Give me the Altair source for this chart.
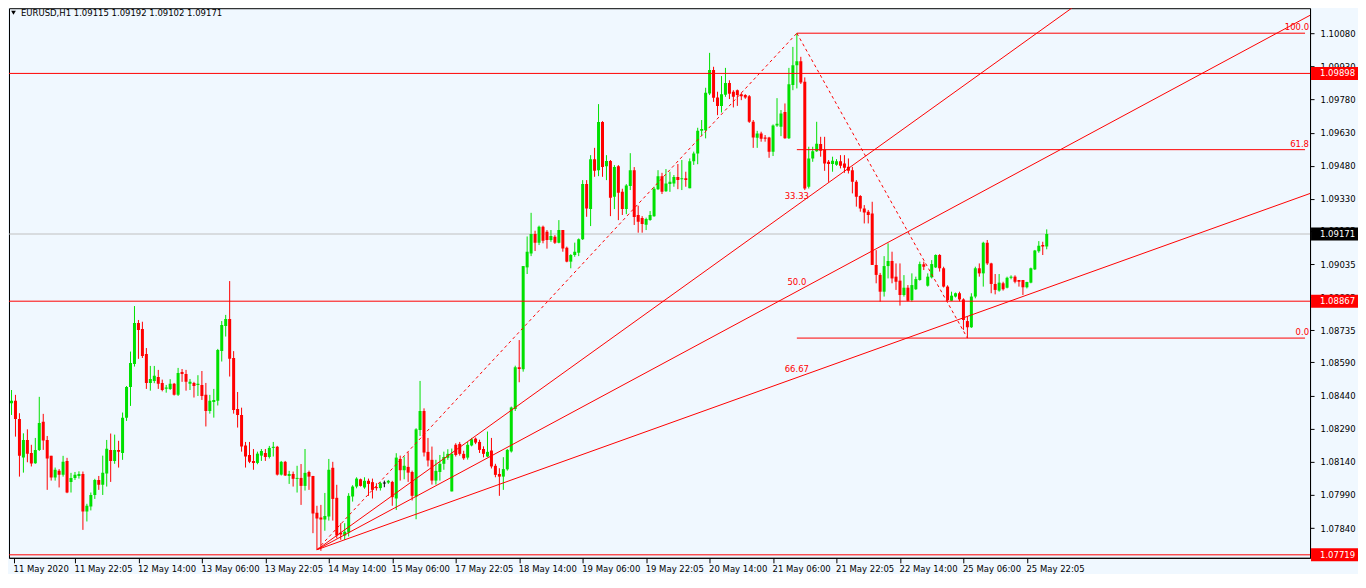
import altair as alt
import pandas as pd

# ---------------- data (EURUSD H1) ----------------
bar_open = [
    1.08405, 1.08416, 1.08334, 1.08159, 1.08239, 1.08180, 1.08134, 1.08194, 1.08321, 1.08239,
    1.08167, 1.08069, 1.08099, 1.08082, 1.08144, 1.08049, 1.08067, 1.08076, 1.08085, 1.07915,
    1.07938, 1.07990, 1.08058, 1.08036, 1.08087, 1.08194, 1.08144, 1.08194, 1.08180, 1.08339,
    1.08479, 1.08583, 1.08768, 1.08741, 1.08628, 1.08497, 1.08506, 1.08524, 1.08497, 1.08471,
    1.08470, 1.08493, 1.08443, 1.08547, 1.08538, 1.08493, 1.08497, 1.08488, 1.08488, 1.08443,
    1.08370, 1.08411, 1.08416, 1.08642, 1.08755, 1.08786, 1.08610, 1.08379, 1.08352, 1.08214,
    1.08171, 1.08144, 1.08135, 1.08168, 1.08180, 1.08162, 1.08203, 1.08208, 1.08082, 1.08140,
    1.08076, 1.08085, 1.08063, 1.08067, 1.08031, 1.08094, 1.08076, 1.07909, 1.07888, 1.07879,
    1.07892, 1.08113, 1.07977, 1.07819, 1.07806, 1.07820, 1.07983, 1.08028, 1.08061, 1.08024,
    1.08054, 1.08048, 1.08025, 1.08021, 1.08044, 1.08046, 1.08049, 1.07974, 1.08153, 1.08102,
    1.08117, 1.08094, 1.07983, 1.08284, 1.08370, 1.08185, 1.08149, 1.08055, 1.08094, 1.08131,
    1.08158, 1.08006, 1.08217, 1.08221, 1.08176, 1.08159, 1.08214, 1.08245, 1.08230, 1.08198,
    1.08164, 1.08191, 1.08122, 1.08085, 1.08073, 1.08106, 1.08187, 1.08379, 1.08568, 1.08559,
    1.09020, 1.09083, 1.09171, 1.09132, 1.09204, 1.09181, 1.09144, 1.09159, 1.09132, 1.09189,
    1.09109, 1.09046, 1.09076, 1.09086, 1.09147, 1.09397, 1.09284, 1.09510, 1.09460, 1.09678,
    1.09478, 1.09501, 1.09340, 1.09478, 1.09362, 1.09284, 1.09388, 1.09460, 1.09257, 1.09243,
    1.09213, 1.09234, 1.09252, 1.09374, 1.09433, 1.09365, 1.09397, 1.09400, 1.09429, 1.09420,
    1.09424, 1.09378, 1.09500, 1.09536, 1.09638, 1.09641, 1.09807, 1.09913, 1.09789, 1.09751,
    1.09801, 1.09855, 1.09815, 1.09822, 1.09804, 1.09800, 1.09795, 1.09679, 1.09607, 1.09626,
    1.09608, 1.09608, 1.09543, 1.09662, 1.09656, 1.09723, 1.09604, 1.09845, 1.09935, 1.09953,
    1.09860, 1.09385, 1.09513, 1.09546, 1.09578, 1.09554, 1.09498, 1.09488, 1.09485, 1.09500,
    1.09490, 1.09475, 1.09460, 1.09408, 1.09343, 1.09287, 1.09272, 1.09264, 1.09031, 1.08986,
    1.08910, 1.09026, 1.09049, 1.08978, 1.08960, 1.08895, 1.08928, 1.08872, 1.08921, 1.08963,
    1.09034, 1.08937, 1.08975, 1.09020, 1.09076, 1.09016, 1.08933, 1.08869, 1.08888, 1.08903,
    1.08875, 1.08777, 1.08749, 1.08888, 1.09016, 1.08993, 1.09132, 1.09038, 1.08945, 1.08915,
    1.08948, 1.08928, 1.08973, 1.08978, 1.08963, 1.08963, 1.08930, 1.08951, 1.09011, 1.09093,
    1.09121, 1.09115,
]
bar_high = [
    1.08465, 1.08443, 1.08360, 1.08269, 1.08287, 1.08217, 1.08248, 1.08434, 1.08357, 1.08257,
    1.08167, 1.08114, 1.08107, 1.08167, 1.08158, 1.08090, 1.08094, 1.08097, 1.08096, 1.07950,
    1.08001, 1.08063, 1.08076, 1.08168, 1.08239, 1.08268, 1.08263, 1.08235, 1.08363, 1.08483,
    1.08639, 1.08845, 1.08782, 1.08774, 1.08655, 1.08574, 1.08574, 1.08556, 1.08512, 1.08488,
    1.08514, 1.08497, 1.08565, 1.08560, 1.08556, 1.08515, 1.08502, 1.08532, 1.08551, 1.08497,
    1.08443, 1.08470, 1.08651, 1.08777, 1.08805, 1.08958, 1.08641, 1.08456, 1.08385, 1.08230,
    1.08230, 1.08198, 1.08186, 1.08198, 1.08198, 1.08212, 1.08230, 1.08212, 1.08144, 1.08144,
    1.08099, 1.08096, 1.08122, 1.08130, 1.08198, 1.08100, 1.08076, 1.07941, 1.07945, 1.07999,
    1.08153, 1.08140, 1.08036, 1.07862, 1.07862, 1.07998, 1.08034, 1.08070, 1.08064, 1.08070,
    1.08064, 1.08064, 1.08043, 1.08049, 1.08055, 1.08058, 1.08054, 1.08179, 1.08168, 1.08164,
    1.08183, 1.08100, 1.08292, 1.08506, 1.08382, 1.08248, 1.08209, 1.08149, 1.08171, 1.08186,
    1.08197, 1.08200, 1.08224, 1.08230, 1.08190, 1.08230, 1.08248, 1.08250, 1.08240, 1.08210,
    1.08277, 1.08248, 1.08131, 1.08111, 1.08161, 1.08198, 1.08390, 1.08575, 1.08691, 1.09026,
    1.09160, 1.09267, 1.09186, 1.09209, 1.09209, 1.09189, 1.09189, 1.09166, 1.09234, 1.09189,
    1.09114, 1.09080, 1.09132, 1.09151, 1.09415, 1.09415, 1.09528, 1.09561, 1.09759, 1.09682,
    1.09528, 1.09506, 1.09483, 1.09483, 1.09376, 1.09397, 1.09537, 1.09474, 1.09299, 1.09252,
    1.09245, 1.09275, 1.09385, 1.09460, 1.09448, 1.09465, 1.09453, 1.09438, 1.09488, 1.09506,
    1.09453, 1.09513, 1.09544, 1.09652, 1.09687, 1.09833, 1.09991, 1.09928, 1.09815, 1.09886,
    1.09923, 1.09867, 1.09822, 1.09825, 1.09810, 1.09804, 1.09800, 1.09687, 1.09638, 1.09634,
    1.09619, 1.09611, 1.09667, 1.09786, 1.09732, 1.09762, 1.09923, 1.10018, 1.10080, 1.09973,
    1.09880, 1.09566, 1.09566, 1.09679, 1.09611, 1.09611, 1.09506, 1.09521, 1.09510, 1.09528,
    1.09528, 1.09513, 1.09475, 1.09415, 1.09347, 1.09302, 1.09280, 1.09317, 1.09098, 1.08995,
    1.09071, 1.09129, 1.09091, 1.09038, 1.09038, 1.08985, 1.08940, 1.08993, 1.08978, 1.09046,
    1.09046, 1.08993, 1.09053, 1.09079, 1.09080, 1.09023, 1.08939, 1.08910, 1.08906, 1.08910,
    1.08880, 1.08797, 1.08903, 1.09023, 1.09038, 1.09136, 1.09144, 1.09041, 1.08990, 1.08990,
    1.08955, 1.08978, 1.08984, 1.08984, 1.08963, 1.08963, 1.08955, 1.09019, 1.09099, 1.09139,
    1.09136, 1.09192,
]
bar_low = [
    1.08352, 1.08254, 1.08073, 1.08091, 1.08138, 1.08119, 1.08131, 1.08189, 1.08194, 1.08013,
    1.08055, 1.08055, 1.08024, 1.08073, 1.07998, 1.08001, 1.08058, 1.08064, 1.07832, 1.07870,
    1.07920, 1.07972, 1.08013, 1.07990, 1.08028, 1.08049, 1.08131, 1.08114, 1.08149, 1.08325,
    1.08393, 1.08571, 1.08606, 1.08610, 1.08470, 1.08462, 1.08496, 1.08470, 1.08459, 1.08453,
    1.08465, 1.08440, 1.08438, 1.08502, 1.08462, 1.08465, 1.08431, 1.08438, 1.08420, 1.08300,
    1.08358, 1.08340, 1.08395, 1.08594, 1.08707, 1.08526, 1.08358, 1.08295, 1.08186, 1.08114,
    1.08134, 1.08104, 1.08129, 1.08144, 1.08144, 1.08155, 1.08164, 1.08078, 1.08078, 1.08076,
    1.08040, 1.08028, 1.08001, 1.07945, 1.08010, 1.08013, 1.07817, 1.07742, 1.07737, 1.07828,
    1.07874, 1.07874, 1.07794, 1.07787, 1.07787, 1.07802, 1.07960, 1.08020, 1.08028, 1.08018,
    1.07986, 1.07974, 1.08010, 1.08010, 1.08025, 1.08040, 1.07941, 1.07922, 1.08055, 1.08061,
    1.08049, 1.07965, 1.07880, 1.08257, 1.08164, 1.08119, 1.08037, 1.08037, 1.08055, 1.08104,
    1.08149, 1.08006, 1.08164, 1.08168, 1.08149, 1.08150, 1.08210, 1.08220, 1.08180, 1.08160,
    1.08161, 1.08110, 1.08070, 1.07986, 1.08013, 1.08100, 1.08182, 1.08370, 1.08500, 1.08548,
    1.08990, 1.09071, 1.09094, 1.09121, 1.09129, 1.09105, 1.09136, 1.09126, 1.09129, 1.09091,
    1.09043, 1.09016, 1.09068, 1.09071, 1.09144, 1.09249, 1.09207, 1.09430, 1.09433, 1.09430,
    1.09415, 1.09252, 1.09284, 1.09234, 1.09257, 1.09261, 1.09370, 1.09212, 1.09177, 1.09177,
    1.09189, 1.09231, 1.09249, 1.09370, 1.09352, 1.09362, 1.09362, 1.09385, 1.09374, 1.09370,
    1.09385, 1.09378, 1.09484, 1.09487, 1.09616, 1.09604, 1.09800, 1.09769, 1.09709, 1.09721,
    1.09792, 1.09782, 1.09744, 1.09751, 1.09777, 1.09783, 1.09674, 1.09561, 1.09561, 1.09589,
    1.09589, 1.09516, 1.09524, 1.09656, 1.09614, 1.09602, 1.09601, 1.09822, 1.09830, 1.09850,
    1.09370, 1.09377, 1.09498, 1.09543, 1.09521, 1.09457, 1.09407, 1.09453, 1.09480, 1.09468,
    1.09448, 1.09445, 1.09355, 1.09295, 1.09272, 1.09219, 1.09219, 1.09031, 1.08948, 1.08865,
    1.08888, 1.08970, 1.08948, 1.08918, 1.08847, 1.08888, 1.08866, 1.08865, 1.08918, 1.08960,
    1.09008, 1.08933, 1.08970, 1.09017, 1.09001, 1.08929, 1.08867, 1.08868, 1.08884, 1.08866,
    1.08737, 1.08700, 1.08746, 1.08880, 1.08978, 1.08933, 1.09031, 1.08903, 1.08898, 1.08910,
    1.08915, 1.08925, 1.08966, 1.08948, 1.08933, 1.08895, 1.08925, 1.08948, 1.09008, 1.09086,
    1.09076, 1.09102,
]
bar_close = [
    1.08416, 1.08334, 1.08168, 1.08239, 1.08177, 1.08132, 1.08194, 1.08316, 1.08236, 1.08155,
    1.08069, 1.08104, 1.08082, 1.08140, 1.08001, 1.08067, 1.08081, 1.08085, 1.07915, 1.07941,
    1.07990, 1.08058, 1.08036, 1.08090, 1.08199, 1.08144, 1.08194, 1.08185, 1.08339, 1.08479,
    1.08587, 1.08768, 1.08737, 1.08619, 1.08497, 1.08515, 1.08529, 1.08493, 1.08465, 1.08476,
    1.08493, 1.08443, 1.08542, 1.08538, 1.08502, 1.08502, 1.08483, 1.08493, 1.08438, 1.08370,
    1.08416, 1.08420, 1.08646, 1.08759, 1.08786, 1.08606, 1.08375, 1.08352, 1.08209, 1.08164,
    1.08140, 1.08135, 1.08177, 1.08189, 1.08162, 1.08203, 1.08208, 1.08082, 1.08140, 1.08078,
    1.08085, 1.08063, 1.08067, 1.08031, 1.08090, 1.08073, 1.07906, 1.07883, 1.07879, 1.07895,
    1.08104, 1.07972, 1.07806, 1.07811, 1.07824, 1.07986, 1.08028, 1.08064, 1.08031, 1.08054,
    1.08040, 1.08013, 1.08021, 1.08043, 1.08044, 1.08054, 1.07980, 1.08159, 1.08102, 1.08122,
    1.08091, 1.07986, 1.08287, 1.08370, 1.08182, 1.08146, 1.08055, 1.08099, 1.08131, 1.08162,
    1.08176, 1.08176, 1.08171, 1.08176, 1.08156, 1.08217, 1.08242, 1.08227, 1.08194, 1.08176,
    1.08185, 1.08119, 1.08081, 1.08073, 1.08107, 1.08194, 1.08386, 1.08568, 1.08560, 1.09026,
    1.09091, 1.09171, 1.09132, 1.09204, 1.09141, 1.09144, 1.09162, 1.09132, 1.09189, 1.09105,
    1.09046, 1.09076, 1.09091, 1.09147, 1.09397, 1.09287, 1.09510, 1.09457, 1.09678, 1.09474,
    1.09501, 1.09335, 1.09474, 1.09358, 1.09284, 1.09391, 1.09460, 1.09248, 1.09227, 1.09216,
    1.09239, 1.09257, 1.09376, 1.09433, 1.09362, 1.09400, 1.09408, 1.09429, 1.09415, 1.09423,
    1.09415, 1.09500, 1.09536, 1.09638, 1.09646, 1.09810, 1.09913, 1.09788, 1.09751, 1.09804,
    1.09855, 1.09806, 1.09792, 1.09800, 1.09795, 1.09789, 1.09679, 1.09608, 1.09626, 1.09602,
    1.09602, 1.09543, 1.09662, 1.09670, 1.09717, 1.09604, 1.09849, 1.09935, 1.09953, 1.09857,
    1.09377, 1.09513, 1.09546, 1.09580, 1.09548, 1.09490, 1.09488, 1.09503, 1.09500, 1.09480,
    1.09471, 1.09457, 1.09408, 1.09340, 1.09287, 1.09269, 1.09257, 1.09031, 1.08986, 1.08910,
    1.09026, 1.09049, 1.08970, 1.08955, 1.08895, 1.08928, 1.08869, 1.08940, 1.08967, 1.09035,
    1.09023, 1.08978, 1.09035, 1.09076, 1.09016, 1.08933, 1.08872, 1.08892, 1.08903, 1.08875,
    1.08782, 1.08749, 1.08888, 1.09016, 1.08993, 1.09132, 1.09038, 1.08945, 1.08918, 1.08951,
    1.08921, 1.08973, 1.08978, 1.08955, 1.08955, 1.08930, 1.08954, 1.09016, 1.09096, 1.09118,
    1.09114, 1.09171,
]

time_labels = [
    "11 May 2020", "11 May 22:05", "12 May 14:00", "13 May 06:00", "13 May 22:05",
    "14 May 14:00", "15 May 06:00", "17 May 22:05", "18 May 14:00", "19 May 06:00",
    "19 May 22:05", "20 May 14:00", "21 May 06:00", "21 May 22:05", "22 May 14:00",
    "25 May 06:00", "25 May 22:05",
]
bars_per_label = 16

price_ticks = [
    1.10080, 1.09930, 1.09780, 1.09630, 1.09480, 1.09330, 1.09185, 1.09035, 1.08885,
    1.08735, 1.08590, 1.08440, 1.08290, 1.08140, 1.07990, 1.07840,
]

hline_prices = [1.09898, 1.08867, 1.07719]
bid_price = 1.09171

fan_p1 = (77, 1.07742)       # swing low (bar, price)
fan_p2 = (198, 1.10080)      # swing high
fan_levels = [33.33, 50.0, 66.67]
fan_level_text = ["33.33", "50.0", "66.67"]

retr_high = (198, 1.10080)
retr_low = (241, 1.08700)
retr_levels = [0.0, 61.8, 100.0]
retr_level_text = ["0.0", "61.8", "100.0"]

symbol = "EURUSD,H1"

# ---------------- styling / geometry ----------------
W, H = 1302, 550
BAR_PX = 4
PX_PER_PRICE = 22110.0
BG = "#F0F8FF"
GREEN = "#00E000"
RED = "#FF0000"
FONT = "DejaVu Sans"
FS = 8.5
BOX_HALF_PX = 6.5

# first bar sits half-hidden behind the left frame, as in the terminal
x_lo = 0.625
x_dom = [x_lo, x_lo + W / BAR_PX]
y_top = 1.101931
y_dom = [y_top - H / PX_PER_PRICE, y_top]
xs = alt.Scale(domain=x_dom, nice=False, zero=False)
ys = alt.Scale(domain=y_dom, nice=False, zero=False)
px_price = 1.0 / PX_PER_PRICE

label_js = "[" + ",".join("'%s'" % s for s in time_labels) + "]"
tick_vals = [x_lo] + [k * bars_per_label for k in range(1, len(time_labels))]
x_axis = alt.Axis(
    values=tick_vals,
    labelExpr=label_js + "[round(datum.value/%d)]" % bars_per_label,
    labelAlign="left", labelBaseline="top", labelPadding=2, tickSize=5,
    labelOffset=-1,
    labelFlush=False, labelOverlap=False, grid=False, title=None,
    labelFont=FONT, labelFontSize=FS, labelColor="black",
    tickColor="black", domainColor="black",
)
y_axis = alt.Axis(
    orient="right", values=price_ticks, format=".5f", tickSize=4, labelPadding=6,
    labelFlush=False, labelOverlap=False, grid=False, title=None,
    labelFont=FONT, labelFontSize=FS, labelColor="black",
    tickColor="black", domainColor="black",
)


def X(f):
    return alt.X(f, scale=xs, axis=x_axis)


def Y(f):
    return alt.Y(f, scale=ys, axis=y_axis)


# ---------------- candles ----------------
n = len(bar_open)
rows = []
for i in range(n):
    o, h, l, c = bar_open[i], bar_high[i], bar_low[i], bar_close[i]
    d = "up" if c > o else ("down" if c < o else "flat")
    top, bot = max(o, c), min(o, c)
    if top - bot < px_price:
        mid = (top + bot) / 2
        top, bot = mid + px_price / 2, mid - px_price / 2
    rows.append(dict(i=i, o=o, h=h, l=l, c=c, dir=d, btop=top, bbot=bot))
cdf = pd.DataFrame(rows)

col = alt.Color("dir:N", scale=alt.Scale(domain=["up", "down", "flat"],
                                         range=[GREEN, RED, "#000000"]), legend=None)

wicks = alt.Chart(cdf).mark_rule(strokeWidth=1, clip=True).encode(
    x=X("i:Q"), y=Y("l:Q"), y2="h:Q", color=col)
bodies = alt.Chart(cdf).mark_bar(size=3, clip=True).encode(
    x=X("i:Q"), y=Y("bbot:Q"), y2="btop:Q", color=col)

# ---------------- horizontal lines ----------------
bid_df = pd.DataFrame({"p": [bid_price]})
bid_line = alt.Chart(bid_df).mark_rule(color="#C0C0C0", strokeWidth=1).encode(
    x=alt.value(0), x2=alt.value(W), y=Y("p:Q"))

hl_df = pd.DataFrame({"p": hline_prices})
hlines = alt.Chart(hl_df).mark_rule(color=RED, strokeWidth=1).encode(
    x=alt.value(0), x2=alt.value(W), y=Y("p:Q"))

# fib retracement levels
rng = retr_high[1] - retr_low[1]
retr_df = pd.DataFrame({
    "x0": [retr_high[0]] * len(retr_levels),
    "x1": [x_dom[1]] * len(retr_levels),
    "p": [retr_low[1] + lv / 100.0 * rng for lv in retr_levels],
    "t": retr_level_text,
})
retr_lines = alt.Chart(retr_df).mark_rule(color=RED, strokeWidth=1).encode(
    x=X("x0:Q"), x2="x1:Q", y=Y("p:Q"))
retr_text = alt.Chart(retr_df).mark_text(
    align="right", baseline="bottom", dy=-1, color=RED, font=FONT, fontSize=FS
).encode(x=alt.value(W - 1), y=Y("p:Q"), text="t:N")

# fib fan
x_far = x_dom[1] + 200
frng = fan_p2[1] - fan_p1[1]
fan_rows = []
fan_lab = []
for lv, txt in zip(fan_levels, fan_level_text):
    p_at = fan_p2[1] - lv / 100.0 * frng
    slope = (p_at - fan_p1[1]) / (fan_p2[0] - fan_p1[0])
    fan_rows.append(dict(k=txt, x=fan_p1[0], p=fan_p1[1]))
    fan_rows.append(dict(k=txt, x=x_far, p=fan_p1[1] + slope * (x_far - fan_p1[0])))
    fan_lab.append(dict(x=fan_p2[0], p=p_at, t=txt))
fan_df = pd.DataFrame(fan_rows)
fan_lines = alt.Chart(fan_df).mark_line(color=RED, strokeWidth=1, clip=True).encode(
    x=X("x:Q"), y=Y("p:Q"), detail="k:N")
fan_text = alt.Chart(pd.DataFrame(fan_lab)).mark_text(
    align="center", baseline="bottom", dy=-4, color=RED, font=FONT, fontSize=FS
).encode(x=X("x:Q"), y=Y("p:Q"), text="t:N")

# dashed trend lines of the fan and of the retracement
dash_df = pd.DataFrame([
    dict(k="fan", x=fan_p1[0], p=fan_p1[1]), dict(k="fan", x=fan_p2[0], p=fan_p2[1]),
    dict(k="ret", x=retr_high[0], p=retr_high[1]), dict(k="ret", x=retr_low[0], p=retr_low[1]),
])
dash_lines = alt.Chart(dash_df).mark_line(
    color=RED, strokeWidth=1, strokeDash=[3, 3], clip=True
).encode(x=X("x:Q"), y=Y("p:Q"), detail="k:N")

# ---------------- price boxes on the axis ----------------
box_prices = hline_prices + [bid_price]
box_df = pd.DataFrame({
    "p": box_prices,
    "plo": [v - BOX_HALF_PX * px_price for v in box_prices],
    "phi": [v + BOX_HALF_PX * px_price for v in box_prices],
    "bg": [RED] * len(hline_prices) + ["#000000"],
    "t": ["%.5f" % v for v in box_prices],
})
boxes = alt.Chart(box_df).mark_rect().encode(
    x=alt.value(W + 1), x2=alt.value(W + 48),
    y=Y("plo:Q"), y2="phi:Q", color=alt.Color("bg:N", scale=None))
box_text = alt.Chart(box_df).mark_text(
    align="left", baseline="middle", color="white", font=FONT, fontSize=FS
).encode(x=alt.value(W + 10), y=Y("p:Q"), text="t:N")

# ---------------- top-left info ----------------
info = "%s  %.5f %.5f %.5f %.5f" % (symbol, bar_open[-1], bar_high[-1], bar_low[-1], bar_close[-1])
info_df = pd.DataFrame({"t": [info]})
info_text = alt.Chart(info_df).mark_text(
    align="left", baseline="middle", color="black", font=FONT, fontSize=FS
).encode(x=alt.value(12), y=alt.value(5), text="t:N")
info_tri = alt.Chart(info_df).mark_point(
    shape="triangle-down", filled=True, size=22, color="black", opacity=1
).encode(x=alt.value(4.5), y=alt.value(4.5))

chart = alt.layer(
    bid_line, wicks, bodies, hlines, retr_lines, fan_lines, dash_lines,
    retr_text, fan_text, boxes, box_text, info_text, info_tri,
).properties(
    width=W, height=H, padding=0, background=BG,
).configure_view(
    fill=BG, stroke="black", strokeWidth=1,
)

chart.save("out.html", embed_options={"renderer": "svg", "actions": False})
